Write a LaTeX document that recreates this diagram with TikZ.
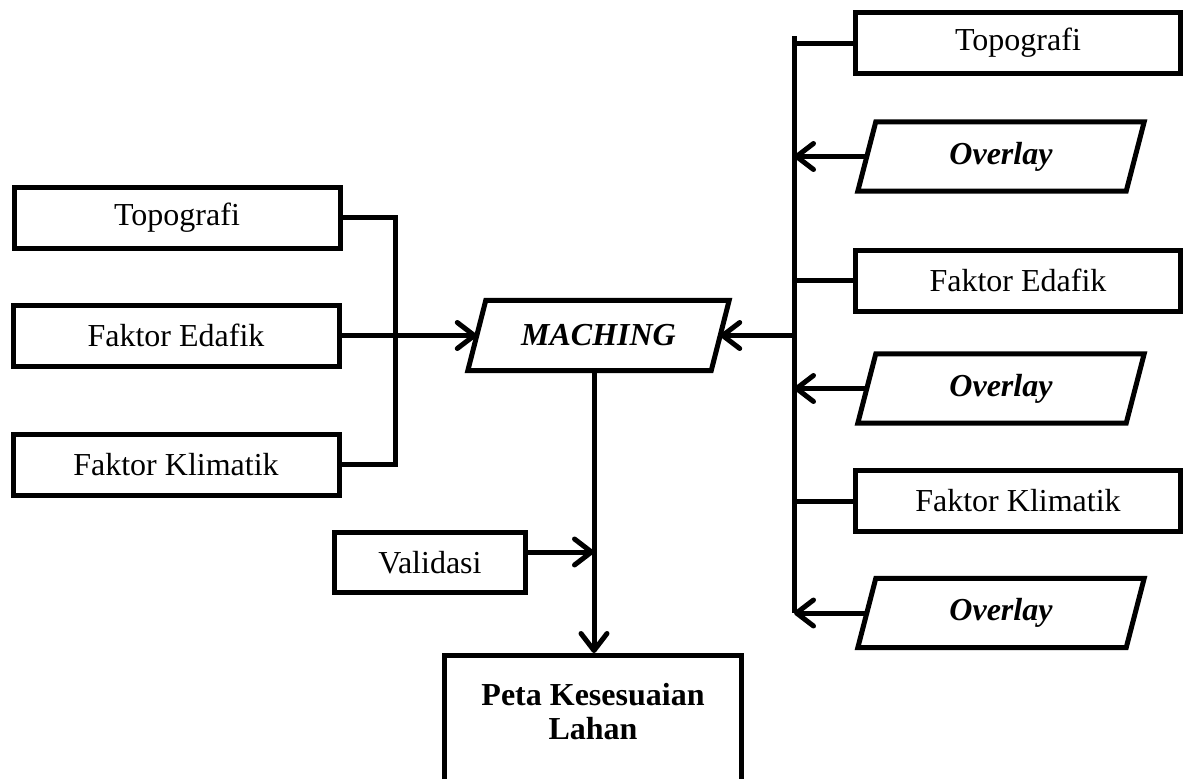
\documentclass[tikz,border=0pt]{standalone}
\usepackage{fontspec}
\setmainfont{Liberation Serif}
\usetikzlibrary{arrows.meta,calc}
\newcommand{\fsz}{\fontsize{32}{34}\selectfont}
\newcommand{\paral}[2]{\draw[lw] ([xshift=#2]#1.north west) -- ([xshift=#2]#1.north east) -- ([xshift=-#2]#1.south east) -- ([xshift=-#2]#1.south west) -- cycle;}
\begin{document}
\begin{tikzpicture}[x=1pt,y=-1pt,
  lw/.style={line width=5pt},
  box/.style={draw, lw, rectangle, inner sep=0pt, font=\fsz},
  sidebox/.style={box, minimum width=326pt, minimum height=61pt},
  rbox/.style={box, minimum width=325pt, minimum height=61pt},
  ovtxt/.style={rectangle, inner sep=0pt, minimum width=268pt, minimum height=69pt, font=\fsz\bfseries\itshape},
  arr/.style={lw, -{Straight Barb[length=17pt,width=26pt,round]}}]
\useasboundingbox (0,0) rectangle (1189,779);
\clip (0,0) rectangle (1189,779);
% left inputs
\node[sidebox] (topoL) at (177,217.5) {Topografi};
\node[sidebox] (edaL) at (176,335.5) {Faktor Edafik};
\node[sidebox] (kliL) at (176,464.5) {Faktor Klimatik};
% matching
\node[ovtxt, minimum width=243pt, minimum height=70pt] (mach) at (598.5,335.5) {MACHING};
\paral{mach}{9pt}
% right column
\node[rbox] (topoR) at (1018,43) {Topografi};
\node[ovtxt] (ov1) at (1001,156.5) {Overlay};
\paral{ov1}{9pt}
\node[rbox] (edaR) at (1018,280.5) {Faktor Edafik};
\node[ovtxt] (ov2) at (1001,388.5) {Overlay};
\paral{ov2}{9pt}
\node[rbox] (kliR) at (1018,501) {Faktor Klimatik};
\node[ovtxt] (ov3) at (1001,613) {Overlay};
\paral{ov3}{9pt}
% validation and output
\node[box, minimum width=191pt, minimum height=60pt] (val) at (430,562.5) {Validasi};
\node[box, anchor=north, minimum width=297pt, minimum height=150pt] (peta) at (593,653) {};
\node[font=\fsz\bfseries, align=center, inner sep=0pt] (petatxt) at (593,712) {Peta Kesesuaian\\Lahan};
% left bus
\coordinate (lb) at (395,0);
\draw[lw] (topoL.east) -- (topoL.east -| lb) -- (kliL.east -| lb) -- (kliL.east);
\draw[arr] (edaL.east) -- (mach.west);
% right bus
\coordinate (rbT) at (794,36);
\draw[lw] (rbT) -- (ov3.west -| rbT);
\draw[lw] (topoR.west) -- (topoR.west -| rbT);
\draw[lw] (edaR.west) -- (edaR.west -| rbT);
\draw[lw] (kliR.west) -- (kliR.west -| rbT);
\draw[arr] (ov1.west) -- (ov1.west -| rbT);
\draw[arr] (ov2.west) -- (ov2.west -| rbT);
\draw[arr] (ov3.west) -- (ov3.west -| rbT);
\draw[arr] (mach.east -| rbT) -- (mach.east);
% centre line
\coordinate (vx) at (594,0);
\coordinate (vj) at (594,552);
\draw[arr] (mach.south -| vx) -- (peta.north -| vx);
\draw[arr] (val.east |- vj) -- (vj);
\end{tikzpicture}
\end{document}
